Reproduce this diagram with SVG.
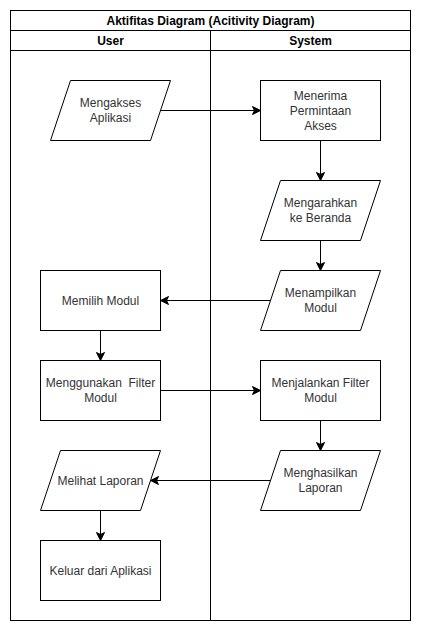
<svg xmlns="http://www.w3.org/2000/svg" width="421" height="631" viewBox="0 0 421 631">
<style>
.frame{fill:#fff;stroke:#000;stroke-width:1}
.node{fill:#fff;stroke:#000;stroke-width:1}
.lbl{font-family:"Liberation Sans",Arial,sans-serif;font-size:12px;fill:#333;text-anchor:middle}
.hdr{font-family:"Liberation Sans",Arial,sans-serif;font-size:12px;font-weight:bold;fill:#000;text-anchor:middle}
.edge{fill:none;stroke:#000;stroke-width:1}
</style>
<defs>
<marker id="arr" markerUnits="userSpaceOnUse" markerWidth="10" markerHeight="10" viewBox="0 0 10 10" refX="9" refY="5" orient="auto">
<path d="M1,1 L9,5 L1,9 L3,5 Z" fill="#000" stroke="#000" stroke-width="1"/>
</marker>
</defs>
<rect width="421" height="631" fill="#fff"/>
<g id="pool">
<rect class="frame" x="10.5" y="10.5" width="400" height="610"/>
<line class="edge" x1="10.5" y1="30.5" x2="410.5" y2="30.5"/>
<line class="edge" x1="10.5" y1="50.5" x2="410.5" y2="50.5"/>
<line class="edge" x1="210.5" y1="30.5" x2="210.5" y2="620.5"/>
<text class="hdr" x="210.5" y="24.5">Aktifitas Diagram (Acitivity Diagram)</text>
<text class="hdr" x="110.5" y="44.5">User</text>
<text class="hdr" x="310.5" y="44.5">System</text>
</g>
<g id="connectors">
<line class="edge" x1="160.5" y1="110.5" x2="260.5" y2="110.5" marker-end="url(#arr)"/>
<line class="edge" x1="320.5" y1="140.5" x2="320.5" y2="180.5" marker-end="url(#arr)"/>
<line class="edge" x1="320.5" y1="240.5" x2="320.5" y2="270.5" marker-end="url(#arr)"/>
<line class="edge" x1="270.5" y1="300.5" x2="160.5" y2="300.5" marker-end="url(#arr)"/>
<line class="edge" x1="100.5" y1="330.5" x2="100.5" y2="360.5" marker-end="url(#arr)"/>
<line class="edge" x1="160.5" y1="390.5" x2="260.5" y2="390.5" marker-end="url(#arr)"/>
<line class="edge" x1="320.5" y1="420.5" x2="320.5" y2="450.5" marker-end="url(#arr)"/>
<line class="edge" x1="270.5" y1="480.5" x2="150.5" y2="480.5" marker-end="url(#arr)"/>
<line class="edge" x1="100.5" y1="510.5" x2="100.5" y2="540.5" marker-end="url(#arr)"/>
</g>
<g id="n1">
<polygon class="node" points="70.5,80.5 170.5,80.5 150.5,140.5 50.5,140.5"/>
<text class="lbl" x="110.5" y="107">Mengakses</text>
<text class="lbl" x="110.5" y="122">Aplikasi</text>
</g>
<g id="n2">
<rect class="node" x="260.5" y="80.5" width="120" height="60"/>
<text class="lbl" x="320.5" y="100">Menerima</text>
<text class="lbl" x="320.5" y="115">Permintaan</text>
<text class="lbl" x="320.5" y="130">Akses</text>
</g>
<g id="n3">
<polygon class="node" points="280.5,180.5 380.5,180.5 360.5,240.5 260.5,240.5"/>
<text class="lbl" x="320.5" y="207">Mengarahkan</text>
<text class="lbl" x="320.5" y="222">ke Beranda</text>
</g>
<g id="n4">
<polygon class="node" points="280.5,270.5 380.5,270.5 360.5,330.5 260.5,330.5"/>
<text class="lbl" x="320.5" y="297">Menampilkan</text>
<text class="lbl" x="320.5" y="312">Modul</text>
</g>
<g id="n5">
<rect class="node" x="40.5" y="270.5" width="120" height="60"/>
<text class="lbl" x="100.5" y="304.5">Memilih Modul</text>
</g>
<g id="n6">
<rect class="node" x="40.5" y="360.5" width="120" height="60"/>
<text class="lbl" x="100.5" y="387" xml:space="preserve">Menggunakan  Filter</text>
<text class="lbl" x="100.5" y="402">Modul</text>
</g>
<g id="n7">
<rect class="node" x="260.5" y="360.5" width="120" height="60"/>
<text class="lbl" x="320.5" y="387">Menjalankan Filter</text>
<text class="lbl" x="320.5" y="402">Modul</text>
</g>
<g id="n8">
<polygon class="node" points="280.5,450.5 380.5,450.5 360.5,510.5 260.5,510.5"/>
<text class="lbl" x="320.5" y="477">Menghasilkan</text>
<text class="lbl" x="320.5" y="492">Laporan</text>
</g>
<g id="n9">
<polygon class="node" points="60.5,450.5 160.5,450.5 140.5,510.5 40.5,510.5"/>
<text class="lbl" x="100.5" y="484.5">Melihat Laporan</text>
</g>
<g id="n10">
<rect class="node" x="40.5" y="540.5" width="120" height="60"/>
<text class="lbl" x="100.5" y="574.5">Keluar dari Aplikasi</text>
</g>
</svg>
